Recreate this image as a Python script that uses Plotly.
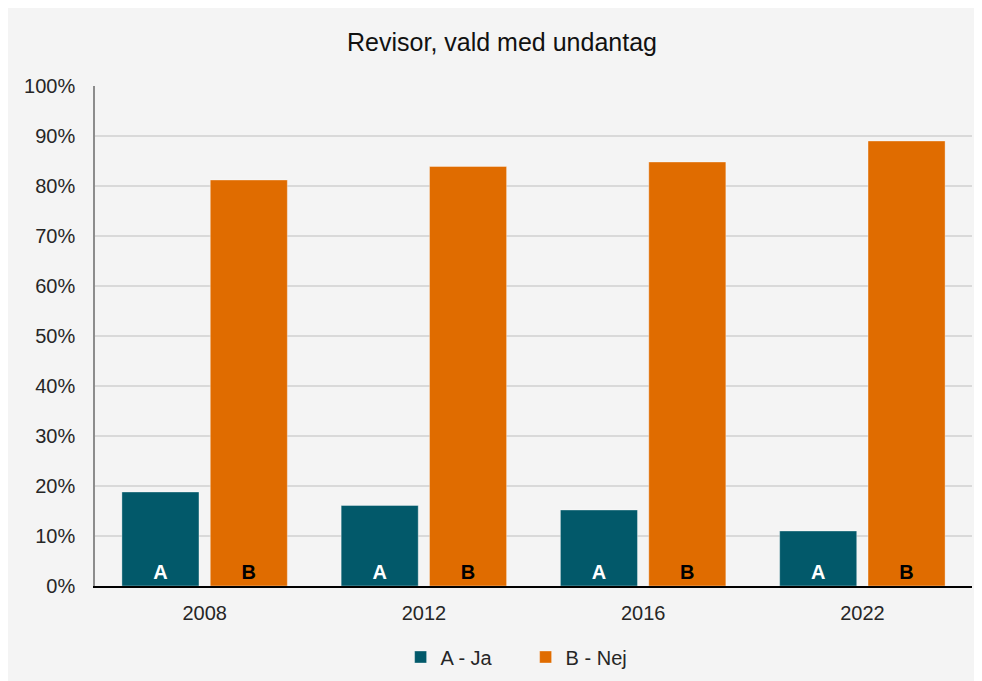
import plotly.graph_objects as go

years = ["2008", "2012", "2016", "2022"]
ja_values = [0.188, 0.161, 0.152, 0.110]
nej_values = [0.812, 0.839, 0.848, 0.890]
series_names = ["A - Ja", "B - Nej"]
bar_labels = ["A", "B"]
title_text = "Revisor, vald med undantag"

TEAL = "#02596A"
ORANGE = "#E06C00"
FONT = "Liberation Sans, Arial, sans-serif"

fig = go.Figure()
fig.add_trace(go.Bar(
    x=years, y=ja_values, name=series_names[0],
    marker=dict(color=TEAL, line=dict(color="rgba(255,255,255,0.35)", width=1)),
    text=[bar_labels[0]] * len(years), textposition="inside",
    insidetextanchor="start", textangle=0,
    textfont=dict(family=FONT, size=20, color="white", weight="bold"),
    hoverinfo="skip",
))
fig.add_trace(go.Bar(
    x=years, y=nej_values, name=series_names[1],
    marker=dict(color=ORANGE, line=dict(color="rgba(255,255,255,0.35)", width=1)),
    text=[bar_labels[1]] * len(years), textposition="inside",
    insidetextanchor="start", textangle=0,
    textfont=dict(family=FONT, size=20, color="black", weight="bold"),
    hoverinfo="skip",
))

fig.update_layout(
    width=982, height=681,
    margin=dict(l=87, r=18, t=78, b=103, autoexpand=False),
    paper_bgcolor="#F4F4F4",
    plot_bgcolor="#F4F4F4",
    font=dict(family=FONT, size=20, color="#262626"),
    barmode="group",
    bargap=0.194,
    bargroupgap=0.128,
    uniformtext=dict(mode=False),
    title=dict(text=title_text, x=494/982, xanchor="center", y=1 - 34/681, yanchor="middle",
               font=dict(family=FONT, size=25, color="#111111")),
    legend=dict(orientation="h", x=0.491, xanchor="center", y=-0.142, yanchor="middle",
                font=dict(family=FONT, size=20, color="#262626"),
                itemwidth=30, entrywidth=80, entrywidthmode="pixels",
                bgcolor="rgba(0,0,0,0)", traceorder="normal"),
    showlegend=True,
)
fig.update_yaxes(
    range=[0, 1], dtick=0.1, tickformat=".0%", automargin=False,
    showgrid=True, gridcolor="#D9D9D9", gridwidth=1.5,
    showline=True, linecolor="#8C8C8C", linewidth=1.5,
    ticks="", ticklabelstandoff=14, zeroline=False,
    tickfont=dict(family=FONT, size=20, color="#262626"),
)
fig.update_xaxes(
    showline=True, linecolor="black", linewidth=1.5, automargin=False,
    ticks="", ticklabelstandoff=8,
    tickfont=dict(family=FONT, size=20, color="#262626"),
)

fig.write_html("out.html")
